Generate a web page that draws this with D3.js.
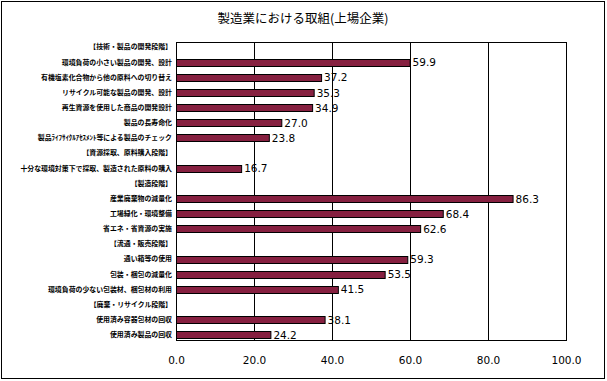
<!DOCTYPE html>
<html><head><meta charset="utf-8">
<script src="https://cdn.jsdelivr.net/npm/d3@7"></script>
<style>body{margin:0;background:#fff}svg{display:block}</style>
</head><body>
<script>
const categories = [
  "【技術・製品の開発段階】",
  "環境負荷の小さい製品の開発、設計",
  "有機塩素化合物から他の原料への切り替え",
  "リサイクル可能な製品の開発、設計",
  "再生資源を使用した商品の開発設計",
  "製品の長寿命化",
  "製品ﾗｲﾌｻｲｸﾙｱｾｽﾒﾝﾄ等による製品のチェック",
  "【資源採取、原料購入段階】",
  "十分な環境対策下で採取、製造された原料の購入",
  "【製造段階】",
  "産業廃棄物の減量化",
  "工場緑化・環境整備",
  "省エネ・省資源の実施",
  "【流通・販売段階】",
  "通い箱等の使用",
  "包装・梱包の減量化",
  "環境負荷の少ない包装材、梱包材の利用",
  "【廃棄・リサイクル段階】",
  "使用済み容器包材の回収",
  "使用済み製品の回収"
];
const values = [null, 59.9, 37.2, 35.3, 34.9, 27.0, 23.8, null, 16.7, null, 86.3, 68.4, 62.6, null, 59.3, 53.5, 41.5, null, 38.1, 24.2];
const ticks = [0, 20, 40, 60, 80, 100];
const title = "製造業における取組(上場企業)";

const W = 607, H = 381;
const m = {left: 176, right: 41, top: 42, bottom: 41};
const svg = d3.select("body").append("svg").attr("width", W).attr("height", H);
svg.append("rect").attr("x", 1.5).attr("y", 1.5).attr("width", W - 4).attr("height", H - 4)
  .attr("fill", "#fff").attr("stroke", "#000").attr("stroke-width", 1);

const x = d3.scaleLinear().domain([0, 100]).range([m.left, W - m.right]);
const y = d3.scaleBand().domain(d3.range(categories.length)).range([m.top, H - m.bottom]).paddingInner(0.52).paddingOuter(0.1);

svg.append("text").attr("x", 303).attr("y", 23).attr("text-anchor", "middle")
  .attr("font-family", "'Noto Sans CJK JP', sans-serif").attr("font-size", 12.5).text(title);

svg.append("rect").attr("x", x(0) + 0.5).attr("y", m.top + 0.5).attr("width", x(100) - x(0)).attr("height", H - m.bottom - m.top)
  .attr("fill", "none").attr("stroke", "#000");
svg.append("g").selectAll("line").data(ticks.slice(1, -1)).join("line")
  .attr("x1", d => Math.round(x(d)) + 0.5).attr("x2", d => Math.round(x(d)) + 0.5)
  .attr("y1", m.top).attr("y2", H - m.bottom).attr("stroke", "#000");

const xa = svg.append("g").attr("transform", `translate(0,${H - m.bottom})`)
  .call(d3.axisBottom(x).tickValues(ticks).tickFormat(d3.format(".1f")).tickSize(0).tickPadding(17));
xa.select(".domain").remove();
xa.selectAll("text").attr("font-family", "'DejaVu Sans', sans-serif").attr("font-size", 10.5).attr("fill", "#000");

const ya = svg.append("g").attr("transform", `translate(${m.left},0)`)
  .call(d3.axisLeft(y).tickFormat(i => categories[i]).tickSize(0).tickPadding(4));
ya.select(".domain").remove();
ya.selectAll("text").attr("font-family", "'Noto Sans CJK JP', sans-serif").attr("font-size", 6.9).attr("font-weight", "bold").attr("fill", "#000");

const data = values.map((v, i) => ({i, v})).filter(d => d.v !== null);
svg.append("g").selectAll("rect").data(data).join("rect")
  .attr("x", x(0) + 0.5).attr("y", d => Math.round(y(d.i)) + 0.5)
  .attr("width", d => x(d.v) - x(0)).attr("height", Math.round(y.bandwidth()))
  .attr("fill", "#862040").attr("stroke", "#000").attr("stroke-width", 1);
svg.append("g").selectAll("text").data(data).join("text")
  .attr("x", d => x(d.v) + 3).attr("y", d => y(d.i) + y.bandwidth() / 2 + 4)
  .attr("font-family", "'DejaVu Sans', sans-serif").attr("font-size", 10.5).text(d => d.v.toFixed(1));
</script>
</body></html>
